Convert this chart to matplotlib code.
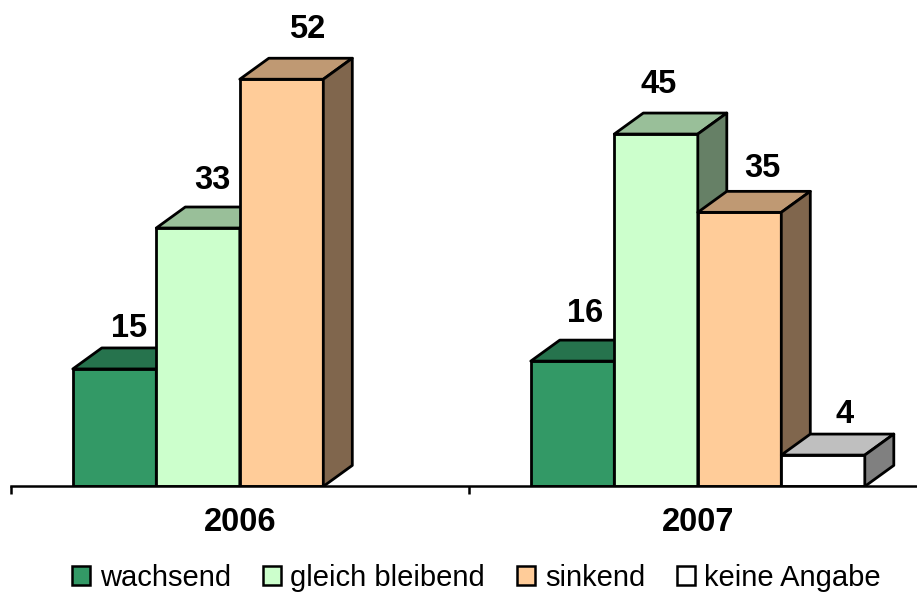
import matplotlib
matplotlib.use("Agg")
import matplotlib.pyplot as plt
from matplotlib.patches import Polygon, Patch
from matplotlib.colors import to_rgb

plt.rcParams["font.family"] = ["Liberation Sans", "DejaVu Sans"]

# ── Datos ─────────────────────────────────────────────────
anios    = ["2006", "2007"]
series   = ["wachsend", "gleich bleibend", "sinkend", "keine Angabe"]
wachsend = [15, 16]
gleich   = [33, 45]
sinkend  = [52, 35]
keine    = [None, 4]
valores  = [wachsend, gleich, sinkend, keine]

# ── Estilo ────────────────────────────────────────────────
colores = ["#339966", "#CCFFCC", "#FFCC99", "#FFFFFF"]
ancho   = 83.5 / 458     # ancho de barra en unidades de categoria
fondo_x = 29 / 458       # profundidad 3D
fondo_y = 21 / 7.83
LW      = 2.0

# ajuste a mano de las etiquetas (px, igual que en el original)
etq_dx = [[0, 0, 11, 0], [-2, -12, 8, 7]]
etq_dy = [[19, 27, 29, 0], [27, 29, 23, 20]]


def oscurecer(color, f):
    return tuple(c * f for c in to_rgb(color))


fig = plt.figure(figsize=(9.17, 5.92), dpi=100, facecolor="white")
ax = fig.add_axes([10.8 / 917, 105.6 / 592, 916 / 917, 486 / 592])
ax.set_xlim(0, 2)
ax.set_ylim(0, 486 / 7.83)
ax.patch.set_visible(False)

for i, anio in enumerate(anios):
    inicio = i + 0.5 - ancho * len(series) / 2
    for j, color in enumerate(colores):
        v = valores[j][i]
        if v is None:
            continue
        x0 = inicio + j * ancho
        x1 = x0 + ancho
        ax.bar(x0, v, width=ancho, align="edge", color=color,
               edgecolor="black", linewidth=LW, zorder=3 + j * 2)
        # cara superior y lateral
        ax.add_patch(Polygon(
            [(x0, v), (x0 + fondo_x, v + fondo_y),
             (x1 + fondo_x, v + fondo_y), (x1, v)],
            closed=True, facecolor=oscurecer(color, 0.75),
            edgecolor="black", linewidth=LW, joinstyle="round",
            zorder=3 + j * 2))
        ax.add_patch(Polygon(
            [(x1, 0), (x1 + fondo_x, fondo_y),
             (x1 + fondo_x, v + fondo_y), (x1, v)],
            closed=True, facecolor=oscurecer(color, 0.5),
            edgecolor="black", linewidth=LW, joinstyle="round",
            zorder=3 + j * 2))
        ax.annotate(str(v), (x0 + ancho / 2 + fondo_x / 2, v + fondo_y),
                    xytext=(etq_dx[i][j] * 0.72, etq_dy[i][j] * 0.72),
                    textcoords="offset points", ha="center", va="center",
                    fontsize=23.5, fontweight="bold", color="black",
                    zorder=20, annotation_clip=False)

# ── Ejes ──────────────────────────────────────────────────
for lado in ["top", "left", "right"]:
    ax.spines[lado].set_visible(False)
ax.spines["bottom"].set_linewidth(1.8)
ax.spines["bottom"].set_zorder(15)
ax.set_yticks([])
ax.set_xticks([0, 1, 2])
ax.set_xticklabels([])
ax.tick_params(axis="x", length=6, width=1.8, direction="out")
for i, anio in enumerate(anios):
    ax.annotate(anio, (i + 0.5, 0), xytext=(0, -35 * 0.72 - 0.5),
                textcoords="offset points", ha="center", va="center",
                fontsize=23.5, fontweight="bold", annotation_clip=False)

# ── Leyenda ───────────────────────────────────────────────
handles = [Patch(facecolor=c, edgecolor="black", linewidth=1.8) for c in colores]
fig.legend(handles, series, ncol=4, loc="center", frameon=False,
           bbox_to_anchor=(476.5 / 917, 1 - 577.5 / 592), fontsize=21,
           handlelength=0.62, handleheight=0.62, handletextpad=0.34,
           columnspacing=1.08, borderpad=0, borderaxespad=0)

plt.savefig("out.png", dpi=100, facecolor="white")
